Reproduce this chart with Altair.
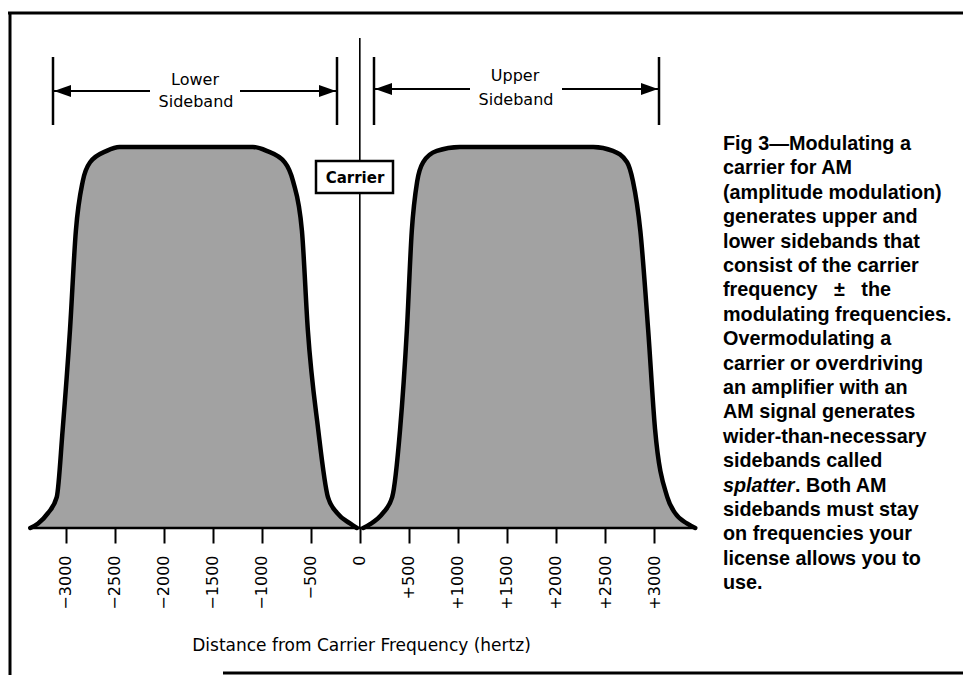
import altair as alt
import pandas as pd

# ------------------------------------------------------------------ data
# spectrum outline of the two sidebands (Hz from carrier, relative amplitude %)
lower_hz = [-3360, -3280, -3180, -3090, -3030, -2955, -2895, -2825, -2750, -2580, -2450,
            -1090, -950, -765, -680, -590, -530, -425, -325, -230, -100, -30]
lower_amp = [0, 1.2, 3.9, 8.1, 25.7, 52, 78, 91, 96, 99, 100,
             100, 99, 96, 91, 78, 52, 26, 8.1, 3.9, 1.2, 0]
upper_hz = [35, 105, 235, 330, 410, 480, 530, 585, 645, 785, 1020,
            2380, 2580, 2725, 2785, 2860, 2940, 3010, 3135, 3215, 3335, 3420]
upper_amp = [0, 1.0, 3.9, 8.1, 25.7, 52, 78, 91, 96, 99, 100,
             100, 99, 96, 91, 78, 52, 26, 8.1, 3.9, 1.2, 0]

tick_values = [-3000, -2500, -2000, -1500, -1000, -500, 0, 500, 1000, 1500, 2000, 2500, 3000]

sideband_names = ["Lower", "Upper"]
sideband_word = "Sideband"
carrier_label = "Carrier"
x_title = "Distance from Carrier Frequency (hertz)"

caption_lines = [
    "Fig 3\u2014Modulating a",
    "carrier for AM",
    "(amplitude modulation)",
    "generates upper and",
    "lower sidebands that",
    "consist of the carrier",
    "frequency\u00a0\u00a0\u00a0\u00b1\u00a0\u00a0\u00a0the",
    "modulating frequencies.",
    "Overmodulating a",
    "carrier or overdriving",
    "an amplifier with an",
    "AM signal generates",
    "wider-than-necessary",
    "sidebands called",
    None,  # mixed-style line handled separately
    "sidebands must stay",
    "on frequencies your",
    "license allows you to",
    "use.",
]
italic_word = "splatter"
italic_rest = ". Both AM"

# ------------------------------------------------------------------ layout
W, H, PAD_B = 955, 520, 147
X_DOMAIN = [-3587, 6150]
Y_DOMAIN = [0, 136.5]


def hz(px):  # page pixel x -> scale units
    return X_DOMAIN[0] + (px - 8) / W * (X_DOMAIN[1] - X_DOMAIN[0])


def amp(py):  # page pixel y -> scale units
    return Y_DOMAIN[1] - (py - 8) / H * (Y_DOMAIN[1] - Y_DOMAIN[0])


xs = alt.Scale(domain=X_DOMAIN, nice=False, zero=False)
ys = alt.Scale(domain=Y_DOMAIN, nice=False, zero=False)

x_axis = alt.Axis(
    values=tick_values,
    labelExpr="datum.value > 0 ? '+' + datum.value : (datum.value < 0 ? '\u2212' + abs(datum.value) : '0')",
    labelAngle=-90, labelAlign="right", labelBaseline="middle",
    labelFont="DejaVu Sans", labelFontSize=16, labelColor="black",
    labelPadding=12, labelOverlap=False, labelFlush=False,
    tickSize=15, tickWidth=2, tickColor="black",
    domain=False, grid=False,
    title=x_title, titleX=353, titleY=122, titleAlign="center",
    titleBaseline="alphabetic", titleFont="DejaVu Sans", titleFontSize=17,
    titleFontWeight="normal", titleColor="black",
)


def X(f):
    return alt.X(f, type="quantitative", scale=xs, axis=x_axis)


def Y(f):
    return alt.Y(f, type="quantitative", scale=ys, axis=None, stack=None)


curve_df = pd.DataFrame({
    "hz": lower_hz + upper_hz,
    "amp": lower_amp + upper_amp,
    "band": ["lower"] * len(lower_hz) + ["upper"] * len(upper_hz),
})

area = alt.Chart(curve_df).mark_area(color="#a2a2a2", interpolate="monotone", opacity=1).encode(
    x=X("hz"), y=Y("amp"), detail="band:N")

outline = alt.Chart(curve_df).mark_line(
    color="black", strokeWidth=4.5, interpolate="monotone", strokeCap="round", strokeJoin="round"
).encode(x=X("hz"), y=Y("amp"), detail="band:N")

base_df = pd.DataFrame({"x": [lower_hz[0]], "x2": [upper_hz[-1]], "y": [0]})
baseline = alt.Chart(base_df).mark_rule(color="black", strokeWidth=2.5).encode(
    x=X("x"), x2="x2", y=Y("y"))

# carrier line
carrier_df = pd.DataFrame({"x": [0], "y": [0], "y2": [amp(38)]})
carrier_line = alt.Chart(carrier_df).mark_rule(color="black", strokeWidth=1.6).encode(
    x=X("x"), y=Y("y"), y2="y2")

# carrier label box
box_df = pd.DataFrame({"x": [hz(316)], "x2": [hz(393)], "y": [amp(161)], "y2": [amp(193)]})
box = alt.Chart(box_df).mark_rect(fill="white", stroke="black", strokeWidth=2.5).encode(
    x=X("x"), x2="x2", y=Y("y"), y2="y2")
box_text_df = pd.DataFrame({"x": [hz(355)], "y": [amp(178)], "t": [carrier_label]})
box_text = alt.Chart(box_text_df).mark_text(
    font="DejaVu Sans", fontSize=15, fontWeight="bold", color="black",
    align="center", baseline="middle").encode(x=X("x"), y=Y("y"), text="t:N")

# dimension markers
vert_df = pd.DataFrame({"x": [hz(53), hz(337), hz(374), hz(659)],
                        "y": [amp(57)] * 4, "y2": [amp(125)] * 4})
verts = alt.Chart(vert_df).mark_rule(color="black", strokeWidth=2.5).encode(
    x=X("x"), y=Y("y"), y2="y2")

seg_df = pd.DataFrame({
    "x": [hz(53), hz(240), hz(374), hz(562)],
    "x2": [hz(150), hz(337), hz(470), hz(659)],
    "y": [amp(91), amp(91), amp(89), amp(89)],
})
segs = alt.Chart(seg_df).mark_rule(color="black", strokeWidth=2).encode(
    x=X("x"), x2="x2", y=Y("y"))

head_df = pd.DataFrame({
    "x": [hz(54), hz(336), hz(375), hz(658)],
    "y": [amp(91), amp(91), amp(89), amp(89)],
    "dir": ["left", "right", "left", "right"],
})
heads = alt.Chart(head_df).mark_point(filled=True, size=289, opacity=1, color="black", strokeWidth=0).encode(
    x=X("x"), y=Y("y"),
    shape=alt.Shape("dir:N", legend=None,
                    scale=alt.Scale(domain=["left", "right"],
                                    range=["M0,0L2,-0.7L2,0.7Z", "M0,0L-2,-0.7L-2,0.7Z"])))

lbl_df = pd.DataFrame({
    "x": [hz(195), hz(196), hz(515), hz(516)],
    "y": [amp(85), amp(107), amp(81), amp(105)],
    "t": [sideband_names[0], sideband_word, sideband_names[1], sideband_word],
})
labels = alt.Chart(lbl_df).mark_text(
    font="DejaVu Sans", fontSize=16, color="black", align="center", baseline="alphabetic"
).encode(x=X("x"), y=Y("y"), text="t:N")

# frame
frame_df = pd.DataFrame({
    "x": [hz(8), hz(10), hz(223)],
    "x2": [hz(963), hz(10), hz(963)],
    "y": [amp(13), amp(13), amp(673)],
    "y2": [amp(13), amp(690), amp(673)],
})
frame = alt.Chart(frame_df).mark_rule(color="black", strokeWidth=3).encode(
    x=X("x"), x2="x2", y=Y("y"), y2="y2")

# caption
cap_rows = [(i, t) for i, t in enumerate(caption_lines) if t is not None]
cap_df = pd.DataFrame({
    "x": [hz(723)] * len(cap_rows),
    "y": [amp(150 + 24.4 * i) for i, _ in cap_rows],
    "t": [t for _, t in cap_rows],
})
cap_style = dict(font="Liberation Sans", fontSize=19.8, fontWeight="bold", color="black",
                 align="left", baseline="alphabetic")
caption = alt.Chart(cap_df).mark_text(**cap_style).encode(x=X("x"), y=Y("y"), text="t:N")

ital_i = caption_lines.index(None)
ital_df = pd.DataFrame({"x": [hz(723)], "y": [amp(150 + 24.4 * ital_i)], "t": [italic_word]})
ital = alt.Chart(ital_df).mark_text(fontStyle="italic", **cap_style).encode(
    x=X("x"), y=Y("y"), text="t:N")
rest_df = pd.DataFrame({"x": [hz(723)], "y": [amp(150 + 24.4 * ital_i)], "t": [italic_rest]})
rest = alt.Chart(rest_df).mark_text(dx=72, **cap_style).encode(
    x=X("x"), y=Y("y"), text="t:N")

chart = alt.layer(
    area, outline, baseline, carrier_line, box, box_text, verts, segs, heads, labels,
    frame, caption, ital, rest
).properties(
    width=W, height=H,
    padding={"left": 0, "top": 0, "right": 0, "bottom": PAD_B},
    autosize=alt.AutoSizeParams(type="none"),
    background="white",
).configure_view(stroke="transparent")

chart.save("out.html", embed_options={"renderer": "svg", "actions": False})
